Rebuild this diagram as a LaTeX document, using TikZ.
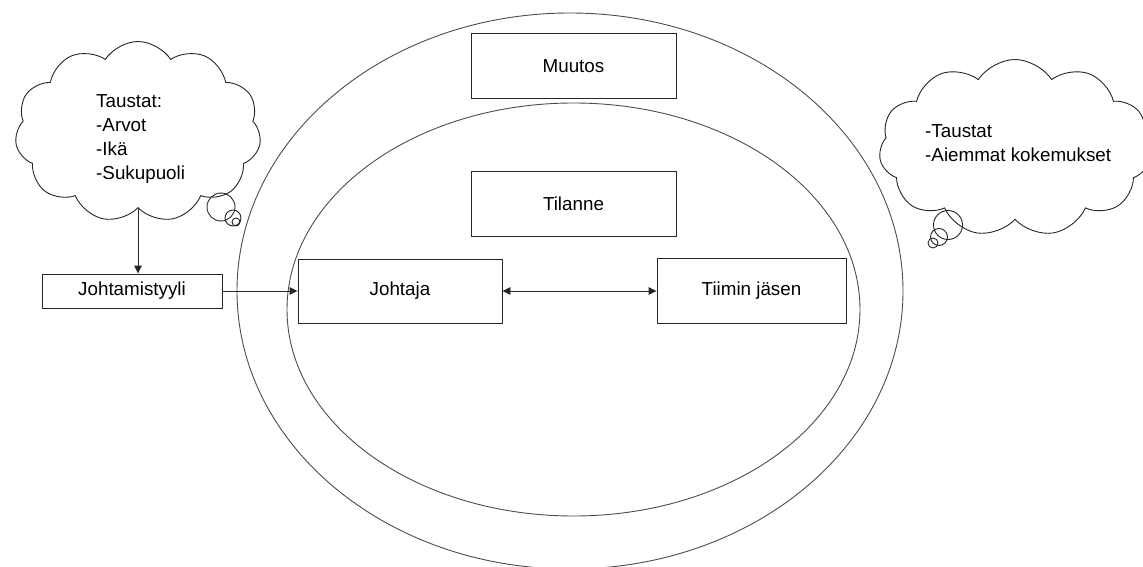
\documentclass[tikz,border=0pt]{standalone}
\usepackage{fontspec}
\setmainfont{Liberation Sans}
\usetikzlibrary{shapes.geometric,shapes.symbols,arrows.meta}
\begin{document}
\begin{tikzpicture}[x=1pt,y=-1pt,
  txt/.style={font=\fontsize{18.8}{24}\selectfont},
  box/.style={draw=black!85, line width=0.9pt, fill=white, inner sep=0pt, txt},
  ring/.style={draw=black!70, line width=0.9pt, ellipse, inner sep=0pt},
  thought/.style={cloud, draw=black!85, line width=0.9pt, fill=white, cloud ignores aspect},
  ctext/.style={align=left, inner sep=0pt, anchor=west, txt},
  bub/.style={circle, draw=black!85, line width=0.9pt, inner sep=0pt},
  conn/.style={draw=black!85, line width=0.9pt, -{Triangle[length=8pt,width=7.5pt]}},
  dconn/.style={draw=black!85, line width=0.9pt, {Triangle[length=8pt,width=7.5pt]}-{Triangle[length=8pt,width=7.5pt]}}
]
\useasboundingbox (0,0) rectangle (1143,567);
% ellipses
\node[ring, minimum width=666pt, minimum height=556pt] (outer) at (570,291) {};
\node[ring, minimum width=573pt, minimum height=413pt] (inner) at (573.5,309.5) {};
% boxes
\node[box, minimum width=205pt, minimum height=65pt] (muutos) at (573.5,66) {Muutos};
\node[box, minimum width=205pt, minimum height=65pt] (tilanne) at (573.5,203.5) {Tilanne};
\node[box, minimum width=204pt, minimum height=64pt] (johtaja) at (400,291) {Johtaja};
\node[box, minimum width=189pt, minimum height=65pt] (tiimi) at (751.5,291) {Tiimin jäsen};
\node[box, minimum width=180pt, minimum height=34pt] (tyyli) at (132,291) {Johtamistyyli};
% clouds
\node[thought, cloud puffs=11, cloud puff arc=115, minimum width=246pt, minimum height=181pt] (cloudL) at (138,132) {};
\node[ctext] (textL) at (96,139) {Taustat:\\-Arvot\\-Ikä\\-Sukupuoli};
\node[bub, minimum size=28pt] (bl1) at (221,207) {};
\node[bub, minimum size=16pt] (bl2) at (233,218) {};
\node[bub, minimum size=8pt] (bl3) at (236,222) {};
\node[thought, cloud puffs=11, cloud puff arc=115, minimum width=272pt, minimum height=177pt] (cloudR) at (1015,148) {};
\node[ctext] (textR) at (925,143) {-Taustat\\-Aiemmat kokemukset};
\node[bub, minimum size=29pt] (br1) at (948,225) {};
\node[bub, minimum size=17pt] (br2) at (939,237) {};
\node[bub, minimum size=10pt] (br3) at (933,243) {};
% connectors
\draw[conn] (cloudL.south) -- (cloudL.south |- tyyli.north);
\draw[conn] (tyyli.east) -- (johtaja.west);
\draw[dconn] (johtaja.east) -- (tiimi.west);
\end{tikzpicture}
\end{document}
